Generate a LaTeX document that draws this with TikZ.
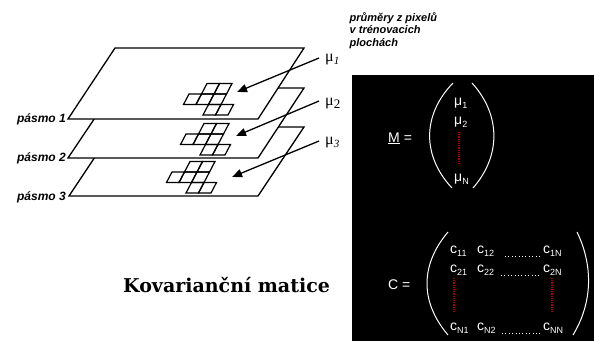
\documentclass[tikz,border=0pt]{standalone}
\usepackage{fontspec}
\setmainfont{Liberation Sans}
\newfontfamily\muserif{Liberation Serif}
\newfontfamily\titlefont{DejaVu Serif}
\usetikzlibrary{arrows.meta}
\newcommand{\mysub}[2][-0.28em]{\raisebox{#1}{\fontsize{9bp}{9bp}\selectfont #2}}
\tikzset{
  pics/cellgrid/.style={code={
    \foreach \u/\v in {1/2,2/2,0/1,1/1,2/1,2/0,3/0}{
      \draw[gridline] ({\u*12.5+\v*5.5},{-\v*10.5}) -- ++(12.5,0) -- ++(5.5,-10.5) -- ++(-12.5,0) -- cycle;
    }
  }},
}
\begin{document}
\begin{tikzpicture}[x=1bp,y=-1bp,
  plane/.style={draw=black, fill=white, line width=1.3bp, line join=miter},
  gridline/.style={draw=black, line width=1.2bp},
  pointer/.style={line width=1.3bp, -{Triangle[length=10bp,width=8bp]}},
  band/.style={font=\fontsize{12bp}{14bp}\selectfont\bfseries\itshape, inner sep=0pt, anchor=base east},
  note/.style={font=\fontsize{11bp}{13bp}\selectfont\bfseries\itshape, inner sep=0pt, anchor=base west},
  mulabel/.style={font=\fontsize{16bp}{16bp}\selectfont\muserif, inner sep=0pt, anchor=base west},
  wtext/.style={text=white, inner sep=0pt, anchor=base west, font=\fontsize{14bp}{16bp}\selectfont},
  paren/.style={draw=white, line width=1bp},
  reddots/.style={draw=red!70!black, line width=1.1bp, dash pattern=on 1.1bp off 1.1bp},
  wdots/.style={draw=white, line width=0.8bp, dash pattern=on 0.8bp off 2.6bp},
]
\useasboundingbox (0,0) rectangle (594,341);
\fill[white] (0,0) rectangle (594,341);

% planes (bottom first)
\draw[plane] (115,127) -- (304,127) -- (258,196) -- (69,196) -- cycle;
\pic at (161,193) {cellgrid};
\draw[plane] (115,88) -- (304,88) -- (258,158) -- (68,158) -- cycle;
\pic at (175,155) {cellgrid};
\draw[plane] (115,48) -- (304,48) -- (258,119) -- (68,119) -- cycle;
\pic at (178,115) {cellgrid};

% band labels
\node[band] (b1) at (66,122.5) {pásmo 1};
\node[band] (b2) at (66,161.5) {pásmo 2};
\node[band] (b3) at (66,200) {pásmo 3};

% note
\node[note] (n1) at (349.5,21) {průměry z pixelů};
\node[note] (n2) at (349.5,33.5) {v trénovacich};
\node[note] (n3) at (349.5,46) {plochách};

% mu labels
\node[mulabel] (mu1) at (325,61) {μ\mysub[-0.2em]{\fontsize{11bp}{11bp}\selectfont\itshape 1}};
\node[mulabel] (mu2) at (325,105) {μ\mysub[-0.2em]{\fontsize{13bp}{13bp}\selectfont 2}};
\node[mulabel] (mu3) at (325,144) {μ\mysub[-0.2em]{\fontsize{11bp}{11bp}\selectfont\itshape 3}};

% arrows
\coordinate (s1) at (319,58);  \coordinate (t1) at (237,92);
\coordinate (s2) at (319,101); \coordinate (t2) at (236,136);
\coordinate (s3) at (319,141); \coordinate (t3) at (232,177);
\draw[pointer] (s1) -- (t1);
\draw[pointer] (s2) -- (t2);
\draw[pointer] (s3) -- (t3);

% title
\node[inner sep=0pt, anchor=base west, font=\fontsize{19bp}{21bp}\selectfont\titlefont\bfseries] (kt) at (123,292) {Kovarianční matice};

% black panel
\fill[black] (352,75) rectangle (594,341);

% M vector
\node[wtext] (M) at (388,142) {\underline{M} =};
\draw[paren] (453,83) .. controls (422,115) and (422,156) .. (452,188);
\draw[paren] (472,83) .. controls (501,115) and (501,156) .. (473,188);
\node[wtext] (m1) at (454,105) {μ\mysub{1}};
\node[wtext] (m2) at (454,124) {μ\mysub{2}};
\node[wtext] (mN) at (454,181) {μ\mysub{N}};
\draw[reddots] (459,132) -- (459,165);

% C matrix
\node[wtext] (C) at (388,289) {C =};
\draw[paren] (448,232) .. controls (420,265) and (420,302) .. (448,335);
\draw[paren] (577,232) .. controls (593,265) and (593,302) .. (573,335);
\node[wtext] (c11) at (450,253) {c\mysub{11}};
\node[wtext] (c12) at (477,253) {c\mysub{12}};
\node[wtext] (c1N) at (543,253) {c\mysub{1N}};
\node[wtext] (c21) at (450,272) {c\mysub{21}};
\node[wtext] (c22) at (477,272) {c\mysub{22}};
\node[wtext] (c2N) at (543,272) {c\mysub{2N}};
\node[wtext] (cN1) at (450,330) {c\mysub{N1}};
\node[wtext] (cN2) at (477,330) {c\mysub{N2}};
\node[wtext] (cNN) at (543,330) {c\mysub{NN}};
\draw[wdots] (505,256) -- (540,256);
\draw[wdots] (501,275) -- (540,275);
\draw[wdots] (502,333) -- (540,333);
\draw[reddots] (454,278) -- (454,313);
\draw[reddots] (552,278) -- (552,313);
\end{tikzpicture}
\end{document}
